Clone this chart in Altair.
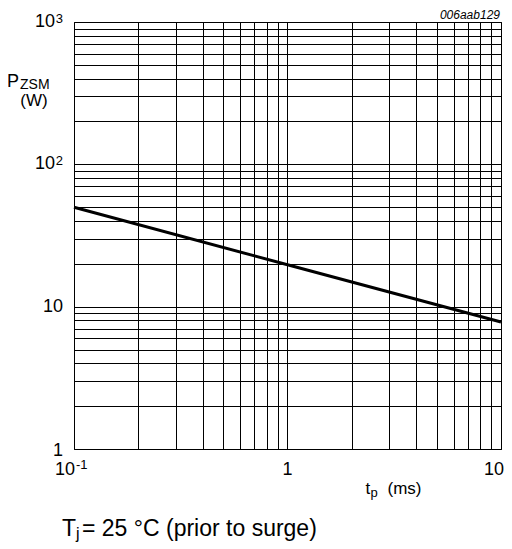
import altair as alt
import pandas as pd

# ---- data -------------------------------------------------------------
tp_ms = [0.1, 1, 10]            # pulse duration (ms)
pzsm_w = [50, 19.7, 7.8]        # non-repetitive peak reverse power (W)

x_grid = [0.1, 0.2, 0.3, 0.4, 0.5, 0.6, 0.7, 0.8, 0.9,
          1, 2, 3, 4, 5, 6, 7, 8, 9, 10]
y_grid = [1, 2, 3, 4, 5, 6, 7, 8, 9,
          10, 20, 30, 40, 50, 60, 70, 80, 90,
          100, 200, 300, 400, 500, 600, 700, 800, 900, 1000]

x_min, x_max = 0.1, 10
y_min, y_max = 1, 1000

ref_code = "006aab129"
note_main = "T"
note_sub = "j"
note_rest = "= 25 °C (prior to surge)"

FONT = "Liberation Sans"

xs = alt.Scale(type="log", domain=[x_min, x_max], nice=False)
ys = alt.Scale(type="log", domain=[y_min, y_max], nice=False)

X_AXIS = alt.Axis(values=x_grid)
Y_AXIS = alt.Axis(values=y_grid)

df = pd.DataFrame({"x": tp_ms, "y": pzsm_w})

line = alt.Chart(df).mark_line(color="black", strokeWidth=3).encode(
    x=alt.X("x:Q", scale=xs, axis=X_AXIS),
    y=alt.Y("y:Q", scale=ys, axis=Y_AXIS),
)


def label(x, y, text, dx=0, dy=0, size=18, align="left", style="normal"):
    d = pd.DataFrame({"x": [x], "y": [y], "t": [text]})
    return alt.Chart(d).mark_text(
        align=align, baseline="alphabetic", dx=dx, dy=dy, fontSize=size,
        font=FONT, fontStyle=style, color="black"
    ).encode(
        x=alt.X("x:Q", scale=xs, axis=X_AXIS),
        y=alt.Y("y:Q", scale=ys, axis=Y_AXIS),
        text="t:N",
    )


layers = [line]
# y tick labels
layers += [
    label(x_min, 1000, "10", dx=-19, dy=5, align="right"),
    label(x_min, 1000, "3", dx=-11, dy=1, size=13, align="right"),
    label(x_min, 100, "10", dx=-19, dy=5, align="right"),
    label(x_min, 100, "2", dx=-11, dy=1, size=13, align="right"),
    label(x_min, 10, "10", dx=-11, dy=5, align="right"),
    label(x_min, 1, "1", dx=-11, dy=7, align="right"),
]
# x tick labels
layers += [
    label(0.1, y_min, "10", dx=1, dy=26, align="right"),
    label(0.1, y_min, "-1", dx=2, dy=20, size=13, align="left"),
    label(1, y_min, "1", dx=0, dy=26, align="center"),
    label(10, y_min, "10", dx=3, dy=26, align="right"),
]
# x title  t_p (ms)
layers += [
    label(1, y_min, "t", dx=78, dy=45, size=17),
    label(1, y_min, "p", dx=83, dy=48, size=13),
    label(1, y_min, "(ms)", dx=100, dy=45, size=17),
]
# y title  P_ZSM (W)
layers += [
    label(x_min, y_max, "P", dx=-67, dy=65, size=18),
    label(x_min, y_max, "ZSM", dx=-54, dy=67, size=14),
    label(x_min, y_max, "(W)", dx=-40, dy=84, size=17, align="center"),
]
# reference code
layers += [
    label(x_max, y_max, ref_code, dx=-1, dy=-3.5, size=12, align="right", style="italic"),
]
# note
layers += [
    label(x_min, y_min, note_main, dx=-12, dy=87, size=23),
    label(x_min, y_min, note_sub, dx=2, dy=90, size=16),
    label(x_min, y_min, note_rest, dx=8, dy=87, size=23),
]

chart = alt.layer(*layers).properties(
    width=427, height=427,
    autosize="none",
    padding={"left": 66, "top": 14, "right": 3, "bottom": 95},
).configure_axis(
    grid=True, labels=False, ticks=False, domain=False, title=None,
    gridColor="black", gridOpacity=1, gridWidth=1,
).configure_view(stroke="black", strokeWidth=1)

chart.save("out.html", embed_options={"renderer": "svg", "actions": False})
